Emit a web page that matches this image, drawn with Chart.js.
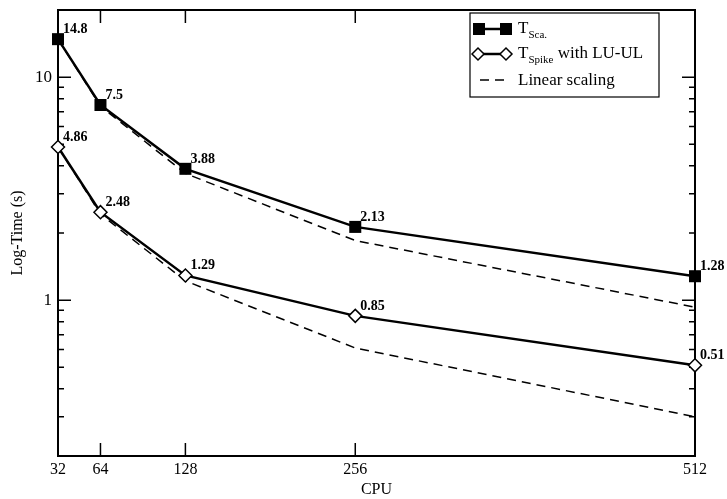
<!DOCTYPE html>
<html>
<head>
<meta charset="utf-8">
<script src="https://cdn.jsdelivr.net/npm/chart.js@4.4.1/dist/chart.umd.min.js"></script>
<style>
  html, body { margin: 0; background: #fff; }
  #wrap { width: 727px; height: 499px; }
</style>
</head>
<body>
<div id="wrap"><canvas id="myChart"></canvas></div>
<script>
const cpus = [32, 64, 128, 256, 512];
const tSca = [14.8, 7.5, 3.88, 2.13, 1.28];
const tSpike = [4.86, 2.48, 1.29, 0.85, 0.51];
const linearSca = [14.8, 7.4, 3.7, 1.85, 0.93];
const linearSpike = [4.86, 2.43, 1.22, 0.61, 0.30];
const xTicks = [32, 64, 128, 256, 512];
const yTickLabels = [1, 10];
const yMinorTicks = [0.3, 0.4, 0.5, 0.6, 0.7, 0.8, 0.9, 2, 3, 4, 5, 6, 7, 8, 9];

const serif = '"Liberation Serif", "Times New Roman", serif';

const pts = arr => arr.map((v, i) => ({ x: cpus[i], y: v }));

// frame + inward ticks, xmgrace style
const framePlugin = {
  id: 'frame',
  beforeDatasetsDraw(chart) {
    const { ctx, chartArea: a, scales: { x, y } } = chart;
    ctx.save();
    ctx.strokeStyle = '#000';
    ctx.lineWidth = 1.5;
    ctx.beginPath();
    xTicks.forEach(v => {
      const px = x.getPixelForValue(v);
      ctx.moveTo(px, a.bottom); ctx.lineTo(px, a.bottom - 13);
      ctx.moveTo(px, a.top); ctx.lineTo(px, a.top + 13);
    });
    yTickLabels.forEach(v => {
      const py = y.getPixelForValue(v);
      ctx.moveTo(a.left, py); ctx.lineTo(a.left + 13, py);
      ctx.moveTo(a.right, py); ctx.lineTo(a.right - 13, py);
    });
    yMinorTicks.forEach(v => {
      const py = y.getPixelForValue(v);
      ctx.moveTo(a.left, py); ctx.lineTo(a.left + 6, py);
      ctx.moveTo(a.right, py); ctx.lineTo(a.right - 6, py);
    });
    ctx.stroke();
    ctx.lineWidth = 2;
    ctx.strokeRect(a.left, a.top, a.right - a.left, a.bottom - a.top);
    ctx.restore();
  }
};

// value labels next to the markers
const labelPlugin = {
  id: 'valueLabels',
  afterDatasetsDraw(chart) {
    const { ctx } = chart;
    ctx.save();
    ctx.font = 'bold 14px ' + serif;
    ctx.fillStyle = '#000';
    ctx.textAlign = 'left';
    ctx.textBaseline = 'alphabetic';
    [0, 1].forEach(di => {
      const meta = chart.getDatasetMeta(di);
      const vals = chart.data.datasets[di].data;
      meta.data.forEach((p, i) => {
        ctx.fillText(String(vals[i].y), p.x + 5, p.y - 6);
      });
    });
    ctx.restore();
  }
};

// legend box with subscripts
const legendPlugin = {
  id: 'gLegend',
  afterDraw(chart) {
    const { ctx } = chart;
    ctx.save();
    ctx.strokeStyle = '#000';
    ctx.fillStyle = '#000';
    ctx.lineWidth = 1.2;
    ctx.strokeRect(470, 13, 189, 84);

    const rows = [29, 54, 80];
    // row 1: filled squares
    ctx.lineWidth = 2.5;
    ctx.beginPath(); ctx.moveTo(478, rows[0]); ctx.lineTo(506, rows[0]); ctx.stroke();
    ctx.fillRect(473, rows[0] - 6, 12, 12);
    ctx.fillRect(500, rows[0] - 6, 12, 12);
    // row 2: open diamonds
    ctx.beginPath(); ctx.moveTo(478, rows[1]); ctx.lineTo(506, rows[1]); ctx.stroke();
    ctx.lineWidth = 1.5;
    [478, 506].forEach(cx => {
      ctx.beginPath();
      ctx.moveTo(cx - 6, rows[1]); ctx.lineTo(cx, rows[1] - 6);
      ctx.lineTo(cx + 6, rows[1]); ctx.lineTo(cx, rows[1] + 6);
      ctx.closePath();
      ctx.fillStyle = '#fff'; ctx.fill();
      ctx.stroke();
    });
    ctx.fillStyle = '#000';
    // row 3: dashed
    ctx.lineWidth = 1.5;
    ctx.setLineDash([9, 6]);
    ctx.beginPath(); ctx.moveTo(480, rows[2]); ctx.lineTo(504, rows[2]); ctx.stroke();
    ctx.setLineDash([]);

    ctx.textBaseline = 'alphabetic';
    const big = '17px ' + serif, small = '11px ' + serif;
    const tx = 518;
    ctx.font = big; ctx.fillText('T', tx, rows[0] + 4);
    let w = ctx.measureText('T').width;
    ctx.font = small; ctx.fillText('Sca.', tx + w, rows[0] + 9);

    ctx.font = big; ctx.fillText('T', tx, rows[1] + 4);
    ctx.font = small; ctx.fillText('Spike', tx + w, rows[1] + 9);
    const sw = ctx.measureText('Spike').width;
    ctx.font = big; ctx.fillText(' with LU-UL', tx + w + sw, rows[1] + 4);

    ctx.fillText('Linear scaling', tx, rows[2] + 5);
    ctx.restore();
  }
};

const ctx = document.getElementById('myChart');

new Chart(ctx, {
  type: 'line',
  data: {
    datasets: [
      {
        label: 'T Sca.',
        data: pts(tSca),
        borderColor: '#000',
        backgroundColor: '#000',
        borderWidth: 2.5,
        pointStyle: 'rect',
        pointRadius: 8.5,
        pointBorderWidth: 0,
        pointBackgroundColor: '#000',
        clip: false
      },
      {
        label: 'T Spike with LU-UL',
        data: pts(tSpike),
        borderColor: '#000',
        borderWidth: 2.5,
        pointStyle: 'rectRot',
        pointRadius: 6.5,
        pointBorderWidth: 1.5,
        pointBorderColor: '#000',
        pointBackgroundColor: '#fff',
        clip: false
      },
      {
        label: 'Linear scaling',
        data: pts(linearSca),
        borderColor: '#000',
        borderWidth: 1.5,
        borderDash: [9, 6],
        pointRadius: 0,
        clip: false
      },
      {
        label: 'Linear scaling 2',
        data: pts(linearSpike),
        borderColor: '#000',
        borderWidth: 1.5,
        borderDash: [9, 6],
        pointRadius: 0,
        clip: false
      }
    ]
  },
  options: {
    responsive: true,
    maintainAspectRatio: false,
    animation: false,
    devicePixelRatio: 1,
    layout: { padding: { top: 10, right: 32, left: 0, bottom: 0 } },
    plugins: {
      legend: { display: false },
      tooltip: { enabled: false }
    },
    scales: {
      x: {
        type: 'linear',
        min: 32,
        max: 512,
        grid: { display: false, drawTicks: false },
        border: { display: false },
        afterBuildTicks: s => { s.ticks = xTicks.map(v => ({ value: v })); },
        afterFit: s => { s.height = 43; s.paddingLeft = 0; s.paddingRight = 0; },
        ticks: {
          color: '#000',
          padding: 4,
          maxRotation: 0,
          autoSkip: false,
          font: { family: serif, size: 16 }
        },
        title: {
          display: true,
          text: 'CPU',
          color: '#000',
          padding: { top: 0, bottom: 0 },
          font: { family: serif, size: 16 }
        }
      },
      y: {
        type: 'logarithmic',
        min: 0.2,
        max: 20,
        grid: { display: false, drawTicks: false },
        border: { display: false },
        afterBuildTicks: s => { s.ticks = yTickLabels.map(v => ({ value: v })); },
        afterFit: s => { s.width = 58; s.paddingTop = 0; s.paddingBottom = 0; },
        ticks: {
          color: '#000',
          padding: 6,
          autoSkip: false,
          callback: v => String(v),
          font: { family: serif, size: 17 }
        },
        title: {
          display: true,
          text: 'Log-Time (s)',
          color: '#000',
          padding: { top: 8, bottom: 0 },
          font: { family: serif, size: 16 }
        }
      }
    }
  },
  plugins: [framePlugin, labelPlugin, legendPlugin]
});
</script>
</body>
</html>
